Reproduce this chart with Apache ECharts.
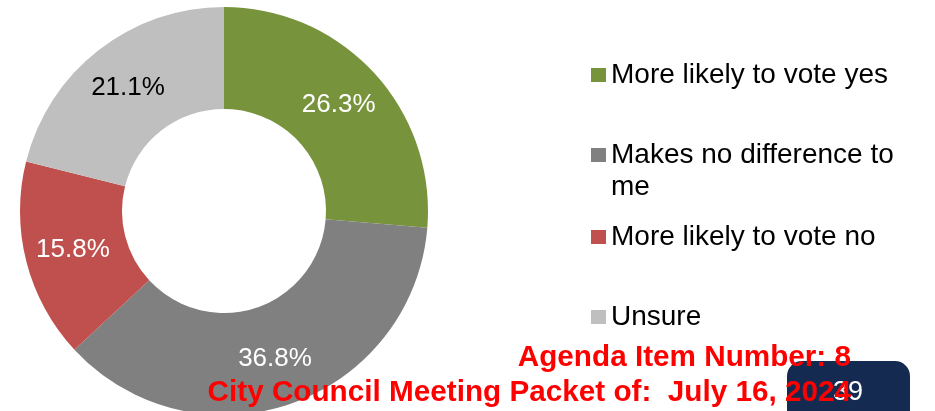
<!DOCTYPE html>
<html>
<head>
<meta charset="utf-8">
<script src="https://cdn.jsdelivr.net/npm/echarts@6/dist/echarts.min.js"></script>
<style>
html,body{margin:0;padding:0;background:#fff;}
#chart{width:935px;height:411px;}
</style>
</head>
<body>
<div id="chart"></div>
<script>
const categories = ["More likely to vote yes", "Makes no difference to me", "More likely to vote no", "Unsure"];
const values = [26.3, 36.8, 15.8, 21.1];
const sliceColors = ["#77933C", "#808080", "#C0504D", "#BFBFBF"];
const labelColors = ["#FFFFFF", "#FFFFFF", "#FFFFFF", "#000000"];
const legendLabels = ["More likely to vote yes", "\nMakes no difference to\nme", "More likely to vote no", "Unsure"];
const legendTops = [59, 107, 221, 301];

const FONT = "'Liberation Sans', Arial, sans-serif";
const chart = echarts.init(document.getElementById('chart'), null, {renderer: 'canvas'});

const legends = categories.map((c, i) => ({
  data: [c],
  orient: 'vertical',
  left: 591,
  top: legendTops[i],
  padding: 0,
  itemWidth: 15,
  itemHeight: 14,
  icon: 'rect',
  selectedMode: false,
  formatter: () => legendLabels[i],
  textStyle: {
    fontSize: 28,
    fontFamily: FONT,
    color: '#000',
    lineHeight: 32
  }
}));

chart.setOption({
  animation: false,
  backgroundColor: '#fff',
  legend: legends,
  series: [{
    type: 'pie',
    center: [224, 211],
    radius: [102, 204],
    startAngle: 90,
    clockwise: true,
    avoidLabelOverlap: false,
    silent: true,
    data: categories.map((c, i) => ({
      name: c,
      value: values[i],
      itemStyle: {color: sliceColors[i]},
      label: {color: labelColors[i]}
    })),
    label: {
      show: true,
      position: 'inside',
      fontSize: 26,
      fontFamily: FONT,
      formatter: p => p.value.toFixed(1) + '%'
    },
    labelLine: {show: false},
    itemStyle: {borderWidth: 0}
  }],
  graphic: [
    {
      type: 'rect',
      shape: {x: 787, y: 361, width: 123, height: 70, r: 15},
      style: {fill: '#152A50'},
      z: 10
    },
    {
      type: 'text',
      x: 848, y: 393,
      style: {text: '39', fill: '#fff', fontSize: 27, fontFamily: FONT, align: 'center', verticalAlign: 'middle'},
      z: 11
    },
    {
      type: 'text',
      x: 851, y: 358,
      style: {text: 'Agenda Item Number: 8', fill: '#FF0000', fontSize: 29.7, fontWeight: 'bold', fontFamily: FONT, align: 'right', verticalAlign: 'middle'},
      z: 12
    },
    {
      type: 'text',
      x: 851, y: 393,
      style: {text: 'City Council Meeting Packet of:  July 16, 2024', fill: '#FF0000', fontSize: 29.7, fontWeight: 'bold', fontFamily: FONT, align: 'right', verticalAlign: 'middle'},
      z: 12
    }
  ]
});
</script>
</body>
</html>
